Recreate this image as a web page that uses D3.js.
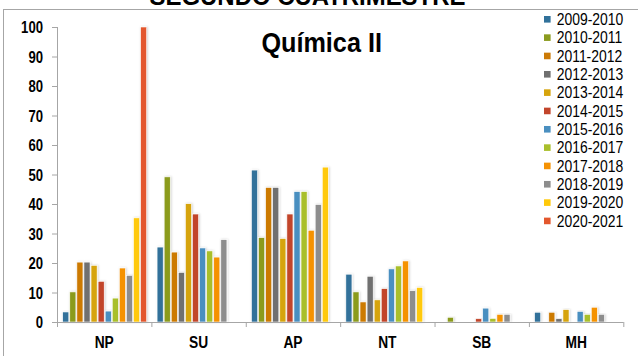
<!DOCTYPE html>
<html>
<head>
<meta charset="utf-8">
<script src="https://cdn.jsdelivr.net/npm/d3@7"></script>
<style>
  html, body { margin: 0; padding: 0; background: #fff; }
  svg { display: block; font-family: "Liberation Sans", Arial, sans-serif; }
</style>
</head>
<body>
<svg id="chart" width="638" height="356"></svg>
<script>
const categories = ["NP", "SU", "AP", "NT", "SB", "MH"];
const seriesNames = ["2009-2010","2010-2011","2011-2012","2012-2013","2013-2014","2014-2015",
                     "2015-2016","2016-2017","2017-2018","2018-2019","2019-2020","2020-2021"];
const seriesColors = ["#31719a","#8b9b1f","#cc7a06","#6f6f6f","#d6a40c","#c2452b",
                      "#4a8fc0","#a9bf2b","#f59204","#8d8d8d","#ffc90a","#e3572d"];
// values per series, in category order NP, SU, AP, NT, SB, MH
const v2009 = [3.4, 25.4, 51.5, 16.2, 0,   3.3];
const v2010 = [10.2, 49.2, 28.6, 10.2, 1.6, 0];
const v2011 = [20.3, 23.7, 45.6, 6.8, 0,   3.3];
const v2012 = [20.3, 16.8, 45.6, 15.5, 0,  1.1];
const v2013 = [19.2, 40.1, 28.3, 7.5, 0,   4.2];
const v2014 = [13.8, 36.6, 36.6, 11.3, 1.1, 0];
const v2015 = [3.7, 25.1, 44.2, 18.0, 4.7, 3.6];
const v2016 = [8.1, 24.1, 44.2, 19.0, 1.2, 2.6];
const v2017 = [18.3, 22.0, 31.1, 20.7, 2.6, 5.0];
const v2018 = [15.8, 27.9, 39.8, 10.6, 2.6, 2.6];
const v2019 = [35.3, 0,   52.5, 11.7, 0,   0];
const v2020 = [100, 0,    0,    0,    0,   0];
const seriesValues = [v2009,v2010,v2011,v2012,v2013,v2014,v2015,v2016,v2017,v2018,v2019,v2020];
const yTicks = [0,10,20,30,40,50,60,70,80,90,100];
const chartTitle = "Química II";
const pageTitle = "SEGUNDO CUATRIMESTRE";

const svg = d3.select("#chart");

function squish(sel, f) {
  sel.each(function() {
    const w = this.getComputedTextLength();
    d3.select(this).attr("textLength", w * f).attr("lengthAdjust", "spacingAndGlyphs");
  });
}

// frame
svg.append("rect").attr("x", 3.5).attr("y", 9.5).attr("width", 700).attr("height", 400)
  .attr("fill", "none").attr("stroke", "#a6a6a6").attr("stroke-width", 1);

// page title (clipped at top)
svg.append("text").attr("x", 307.5).attr("y", 5).attr("text-anchor", "middle")
  .attr("font-size", 26).attr("font-weight", "bold").attr("fill", "#000")
  .text(pageTitle).call(squish, 0.92);

const x0 = d3.scaleBand().domain(categories).range([57, 623.3]).padding(0);
const x1 = d3.scaleBand().domain(seriesNames)
  .range([5.7, x0.bandwidth() - 4.7]).paddingInner(0.14).paddingOuter(0);
const y = d3.scaleLinear().domain([0, 100]).range([322, 27]);

const defs = svg.append("defs");
const flt = defs.append("filter").attr("id", "sh").attr("x", "-50%").attr("y", "-10%")
  .attr("width", "200%").attr("height", "120%");
flt.append("feDropShadow").attr("dx", 0.8).attr("dy", 0).attr("stdDeviation", 0.8)
  .attr("flood-color", "#000").attr("flood-opacity", 0.18);

// bars
const groups = svg.append("g").selectAll("g").data(categories).join("g")
  .attr("transform", d => `translate(${x0(d)},0)`);
groups.each(function(cat, ci) {
  const data = seriesNames.map((s, si) => ({ s, si, v: seriesValues[si][ci] })).filter(d => d.v > 0);
  d3.select(this).selectAll("rect").data(data).join("rect")
    .attr("x", d => x1(d.s))
    .attr("y", d => y(d.v))
    .attr("width", x1.bandwidth())
    .attr("height", d => y(0) - y(d.v))
    .attr("fill", d => seriesColors[d.si])
    .attr("stroke", "#fff").attr("stroke-width", 0.6)
    .attr("filter", "url(#sh)");
});

// y axis
const yAxis = d3.axisLeft(y).tickValues(yTicks).tickSize(5).tickPadding(9);
const gy = svg.append("g").attr("transform", "translate(57,0)").call(yAxis);
gy.select(".domain").attr("stroke", "#a6a6a6").attr("d", "M0.5,27V322.5");
gy.selectAll(".tick line").attr("stroke", "#a6a6a6");
gy.selectAll(".tick text").attr("font-size", 16).attr("font-weight", "bold")
  .attr("fill", "#000").attr("font-family", "Liberation Sans, Arial, sans-serif")
  .attr("dy", "0.36em").call(squish, 0.82);

// x axis
const xAxis = d3.axisBottom(x0).tickSize(0).tickPadding(15);
const gx = svg.append("g").attr("transform", "translate(0,322)").call(xAxis);
gx.select(".domain").attr("stroke", "#a6a6a6").attr("d", "M57,0.5H623.5");
gx.selectAll(".tick text").attr("font-size", 16).attr("font-weight", "bold")
  .attr("fill", "#000").attr("font-family", "Liberation Sans, Arial, sans-serif")
  .attr("dy", "0.71em").call(squish, 0.86);
gx.selectAll(".bnd").data(categories.concat([null])).join("line")
  .attr("class", "bnd")
  .attr("x1", (d, i) => i < categories.length ? x0(d) + 0.5 : x0.range()[1] + 0.5)
  .attr("x2", (d, i) => i < categories.length ? x0(d) + 0.5 : x0.range()[1] + 0.5)
  .attr("y1", 0).attr("y2", 5).attr("stroke", "#a6a6a6");

// chart title
svg.append("text").attr("x", 321.7).attr("y", 51.5).attr("text-anchor", "middle")
  .attr("font-size", 28).attr("font-weight", "bold").attr("fill", "#000")
  .text(chartTitle).call(squish, 0.9);

// legend
const leg = svg.append("g").selectAll("g").data(seriesNames).join("g")
  .attr("transform", (d, i) => `translate(544,${19.3 + i * 18.33})`);
leg.append("rect").attr("x", 0).attr("y", -3.3).attr("width", 6.6).attr("height", 6.6)
  .attr("fill", (d, i) => seriesColors[i]);
leg.append("text").attr("x", 12.7).attr("y", 0).attr("dy", "0.36em")
  .attr("font-size", 16).attr("fill", "#000").text(d => d).call(squish, 0.87);
</script>
</body>
</html>
